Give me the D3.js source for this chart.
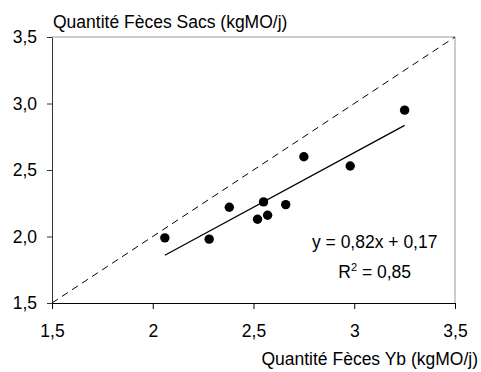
<!DOCTYPE html>
<html>
<head>
<meta charset="utf-8">
<script src="https://cdn.jsdelivr.net/npm/d3@7"></script>
<style>
  body { margin: 0; background: #fff; }
  svg { display: block; font-family: "Liberation Sans", Arial, sans-serif; }
</style>
</head>
<body>
<div id="chart"></div>
<script>
// Quantité fèces : méthode Yb (x) vs sacs (y), kgMO/j
const ybValues = [2.06, 2.28, 2.38, 2.52, 2.55, 2.57, 2.66, 2.75, 2.98, 3.25];
const sacsValues = [1.99, 1.98, 2.22, 2.13, 2.26, 2.16, 2.24, 2.60, 2.53, 2.95];
const xTicks = [1.5, 2, 2.5, 3, 3.5];
const yTicks = [1.5, 2.0, 2.5, 3.0, 3.5];
const slope = 0.82;
const intercept = 0.17;
const equationLines = ["y = 0,82x + 0,17", "R", "2", " = 0,85"];

const width = 481;
const height = 372;
const margin = { top: 37, right: 26, bottom: 69, left: 52 };
const fontSize = 17.5;

const svg = d3.select('#chart').append('svg')
    .attr('width', width)
    .attr('height', height);

const x = d3.scaleLinear().domain([1.5, 3.5]).range([margin.left, width - margin.right]);
const y = d3.scaleLinear().domain([1.5, 3.5]).range([height - margin.bottom, margin.top]);

const comma = d => String(d).replace('.', ',');

// plot area border (top and right in grey)
svg.append('path')
    .attr('d', `M${x(1.5)},${y(3.5)}H${x(3.5)}V${y(1.5)}`)
    .attr('fill', 'none')
    .attr('stroke', '#999')
    .attr('stroke-width', 1);

const xAxis = svg.append('g')
    .attr('transform', `translate(0,${y(1.5)})`)
    .call(d3.axisBottom(x).tickValues(xTicks).tickFormat(comma).tickSize(6).tickPadding(16).tickSizeOuter(0));

const yAxis = svg.append('g')
    .attr('transform', `translate(${x(1.5)},0)`)
    .call(d3.axisLeft(y).tickValues(yTicks).tickFormat(d => comma(d3.format('.1f')(d))).tickSize(5).tickPadding(10).tickSizeOuter(0));

[xAxis, yAxis].forEach(g => {
    g.selectAll('text').attr('font-size', fontSize).attr('fill', '#000').attr('font-family', null);
    g.attr('font-family', null).attr('font-size', null);
});
xAxis.selectAll('path, line').attr('stroke', '#000');
yAxis.selectAll('path, line').attr('stroke', '#333');

// diagonale y = x
svg.append('line')
    .attr('x1', x(1.5)).attr('y1', y(1.5))
    .attr('x2', x(3.5)).attr('y2', y(3.5))
    .attr('stroke', '#000')
    .attr('stroke-width', 1)
    .attr('stroke-dasharray', '7,5');

// droite de régression
const xMin = d3.min(ybValues);
const xMax = d3.max(ybValues);
svg.append('line')
    .attr('x1', x(xMin)).attr('y1', y(slope * xMin + intercept))
    .attr('x2', x(xMax)).attr('y2', y(slope * xMax + intercept))
    .attr('stroke', '#000')
    .attr('stroke-width', 1.3);

svg.append('g')
    .selectAll('circle')
    .data(ybValues.map((v, i) => [v, sacsValues[i]]))
    .join('circle')
    .attr('cx', d => x(d[0]))
    .attr('cy', d => y(d[1]))
    .attr('r', 4.7)
    .attr('fill', '#000');

// équation
const eq = svg.append('g').attr('font-size', fontSize).attr('text-anchor', 'middle');
eq.append('text').attr('x', 374.7).attr('y', 248).text(equationLines[0]);
const r2 = eq.append('text').attr('x', 374.7).attr('y', 278);
r2.append('tspan').text(equationLines[1]);
r2.append('tspan').attr('dy', -7).attr('font-size', 11).text(equationLines[2]);
r2.append('tspan').attr('dy', 7).text(equationLines[3]);

// titres des axes
svg.append('text')
    .attr('x', 53).attr('y', 28)
    .attr('font-size', fontSize)
    .text('Quantité Fèces Sacs (kgMO/j)');

svg.append('text')
    .attr('x', 478).attr('y', 365)
    .attr('text-anchor', 'end')
    .attr('font-size', fontSize)
    .text('Quantité Fèces Yb (kgMO/j)');
</script>
</body>
</html>
